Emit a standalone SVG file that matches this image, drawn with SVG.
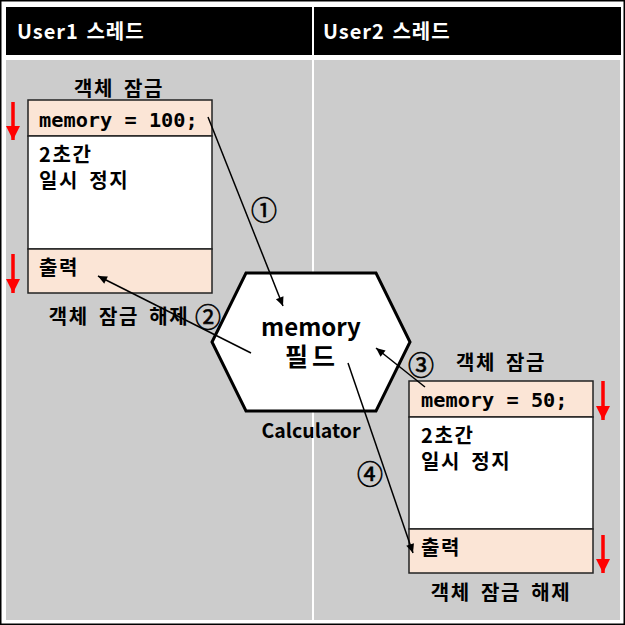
<svg xmlns="http://www.w3.org/2000/svg" width="625" height="625" viewBox="0 0 625 625">
<style>
.hdr{fill:#000}
.hdrt{font-family:"Noto Sans CJK KR","Noto Sans",sans-serif;font-weight:bold;font-size:20px;fill:#fff;letter-spacing:1px;word-spacing:2px}
.panel{fill:#cccccc}
.peach{fill:#fbe5d6;stroke:#222;stroke-width:1.5}
.white{fill:#fff;stroke:#222;stroke-width:1.5}
.kr{font-family:"Noto Sans CJK KR",sans-serif;font-weight:bold;font-size:20px;fill:#000;letter-spacing:1.6px;word-spacing:4px}
.mono{font-family:"DejaVu Sans Mono","Liberation Mono",monospace;font-weight:bold;font-size:20.3px;fill:#000}
.num{font-family:"Noto Sans CJK KR","DejaVu Sans",sans-serif;font-size:26px;fill:#000;stroke:#000;stroke-width:0.6;text-anchor:middle;dominant-baseline:central}
.conn{stroke:#000;stroke-width:1.5;fill:none;marker-end:url(#ah)}
.red{stroke:#ff0000;stroke-width:3.5;fill:none;marker-end:url(#rh)}
</style>
<defs>
<marker id="ah" viewBox="0 0 10 10" refX="10" refY="5" markerWidth="11" markerHeight="9" markerUnits="userSpaceOnUse" orient="auto">
<path d="M0,0.5 L10,5 L0,9.5 Z" fill="#000"/>
</marker>
<marker id="rh" viewBox="0 0 10 10" refX="10" refY="5" markerWidth="15" markerHeight="14" markerUnits="userSpaceOnUse" orient="auto">
<path d="M0,0 L10,5 L0,10 Z" fill="#ff0000"/>
</marker>
</defs>
<rect x="0" y="0" width="625" height="625" fill="#fff"/>
<rect x="0.75" y="0.75" width="623.5" height="623.5" fill="none" stroke="#000" stroke-width="1.5"/>
<g id="lane1">
<rect class="hdr" x="6" y="7" width="306" height="48"/>
<text class="hdrt" x="17" y="39">User1 스레드</text>
<rect class="panel" x="6" y="60" width="306" height="560"/>
</g>
<g id="lane2">
<rect class="hdr" x="314" y="7" width="307" height="48"/>
<text class="hdrt" x="323" y="39">User2 스레드</text>
<rect class="panel" x="314" y="60" width="306" height="560"/>
</g>
<g id="box1">
<text class="kr" x="119" y="96" text-anchor="middle">객체 잠금</text>
<rect class="peach" x="28" y="100" width="184" height="36"/>
<rect class="white" x="28" y="136" width="184" height="113"/>
<rect class="peach" x="28" y="249" width="184" height="44"/>
<text class="mono" x="39" y="127">memory = 100;</text>
<text class="kr" x="39" y="162">2초간<tspan x="39" dy="26">일시 정지</tspan></text>
<text class="kr" x="39" y="275">출력</text>
<text class="kr" x="119" y="324" text-anchor="middle">객체 잠금 해제</text>
<path class="red" d="M13,102 V140"/>
<path class="red" d="M13,254 V293"/>
</g>
<g id="calculator">
<polygon points="246,273 376,273 410,342 376,411 246,411 212,342" fill="#fff" stroke="#000" stroke-width="3"/>
<text x="311" y="336" text-anchor="middle" font-family="'Noto Sans CJK KR','Open Sans',sans-serif" font-weight="bold" font-size="24">memory<tspan x="312" dy="30" font-size="25" letter-spacing="4">필드</tspan></text>
<text x="311" y="438" text-anchor="middle" font-family="'Noto Sans CJK KR','Open Sans',sans-serif" font-weight="bold" font-size="19.5">Calculator</text>
</g>
<g id="box2">
<text class="kr" x="501" y="370" text-anchor="middle">객체 잠금</text>
<rect class="peach" x="409" y="381" width="184" height="36"/>
<rect class="white" x="409" y="417" width="184" height="112"/>
<rect class="peach" x="409" y="529" width="184" height="44"/>
<text class="mono" x="421" y="407">memory = 50;</text>
<text class="kr" x="421" y="443">2초간<tspan x="421" dy="26">일시 정지</tspan></text>
<text class="kr" x="421" y="555">출력</text>
<text class="kr" x="501" y="600" text-anchor="middle">객체 잠금 해제</text>
<path class="red" d="M603,381 V420"/>
<path class="red" d="M603,535 V573"/>
</g>
<g id="connectors">
<path class="conn" d="M208,117 L283,306"/>
<path class="conn" d="M251,353 L98,276"/>
<path class="conn" d="M425,387 L376,348"/>
<path class="conn" d="M348,363 L413,553"/>
<text class="num" x="264" y="208">①</text>
<text class="num" x="208" y="315">②</text>
<text class="num" x="421" y="363">③</text>
<text class="num" x="370" y="472">④</text>
</g>
</svg>
